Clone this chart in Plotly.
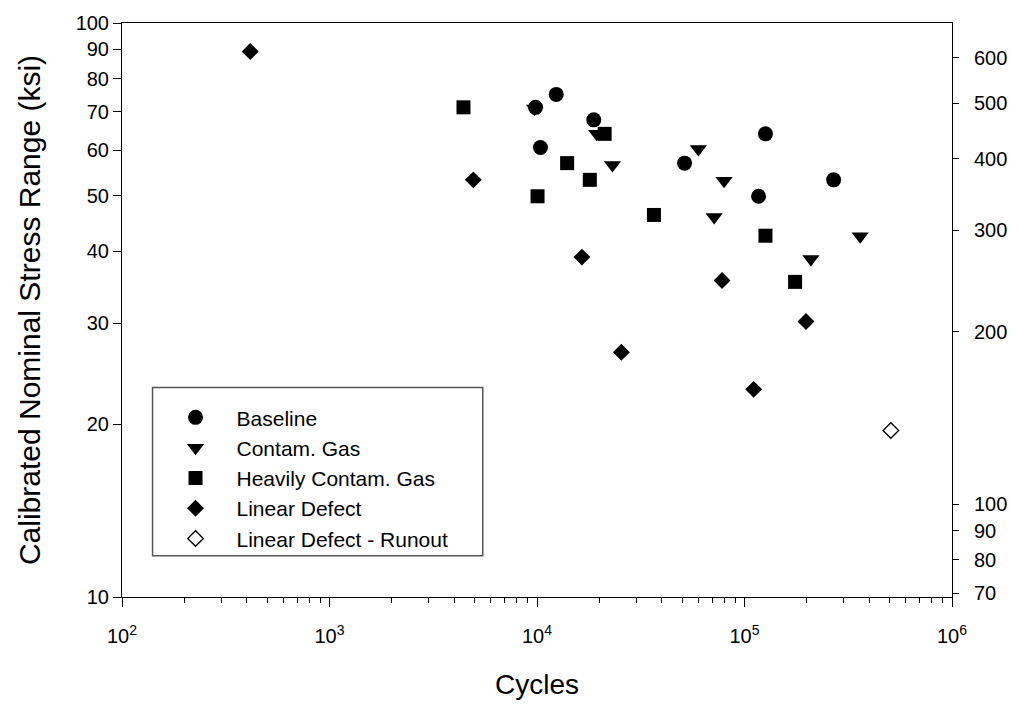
import numpy as np
import plotly.graph_objects as go

# Data (cycles, stress range in ksi)
baseline_n = [9840, 12380, 18770, 10390, 51420, 126200, 116900, 268800]
baseline_s = [71.3, 75.1, 67.8, 60.7, 57.0, 64.1, 49.9, 53.3]

contam_n = [9730, 19400, 23110, 59930, 79700, 71420, 361100, 208900]
contam_s = [71.0, 64.1, 56.6, 60.3, 53.1, 45.9, 42.5, 38.8]

heavy_n = [4423, 21180, 13970, 17970, 10060, 36610, 126200, 175300]
heavy_s = [71.3, 64.1, 57.0, 53.3, 49.9, 46.3, 42.6, 35.4]

linear_n = [415, 4934, 16460, 77970, 197800, 25510, 110700]
linear_s = [89.2, 53.3, 39.1, 35.6, 30.2, 26.7, 23.0]

runout_n = [507200]
runout_s = [19.5]

x_tickvals = [1e2, 1e3, 1e4, 1e5, 1e6]
x_ticktext = ["10<sup>2</sup>", "10<sup>3</sup>", "10<sup>4</sup>", "10<sup>5</sup>", "10<sup>6</sup>"]
y_tickvals = [10, 20, 30, 40, 50, 60, 70, 80, 90, 100]
y2_tickvals = [70, 80, 90, 100, 200, 300, 400, 500, 600]
KSI_TO_MPA = 6.894757

FONT = "Arial, 'Liberation Sans', sans-serif"

fig = go.Figure()

def add(n, s, name, symbol, size, filled=True):
    fig.add_trace(go.Scatter(
        x=n, y=s, mode="markers", name=name,
        marker=dict(symbol=symbol, size=size,
                    color="black" if filled else "white",
                    line=dict(color="black", width=0 if filled else 1.3)),
    ))

add(baseline_n, baseline_s, "Baseline", "circle", 15)
add(contam_n, contam_s, "Contam. Gas", "triangle-down", 15)
add(heavy_n, heavy_s, "Heavily Contam. Gas", "square", 14)
add(linear_n, linear_s, "Linear Defect", "diamond", 13)
add(runout_n, runout_s, "Linear Defect - Runout", "diamond", 12, filled=False)

# invisible trace to anchor the secondary (MPa) axis
fig.add_trace(go.Scatter(x=[None], y=[None], yaxis="y2", showlegend=False,
                         hoverinfo="skip", mode="markers"))

minor_x = [m * 10 ** d for d in range(2, 6) for m in range(2, 10)]

PL, PR, PT, PB = 122, 964, 20, 606
W = PR - PL
H = PB - PT

fig.update_layout(
    width=1019, height=707,
    margin=dict(l=PL, r=1019 - PR, t=PT, b=707 - PB),
    paper_bgcolor="white", plot_bgcolor="white",
    font=dict(family=FONT, color="black", size=20),
    showlegend=True,
    legend=dict(
        x=(155 - PL) / W, y=(PB - 402) / H, xanchor="left", yanchor="top",
        bgcolor="rgba(0,0,0,0)", borderwidth=0,
        font=dict(family=FONT, size=21, color="black"),
        itemwidth=72, tracegroupgap=0,
    ),
    xaxis=dict(
        type="log", range=[2, 6],
        tickvals=x_tickvals, ticktext=x_ticktext,
        ticks="outside", ticklen=9, tickwidth=1, tickcolor="black",
        minor=dict(tickvals=minor_x, ticks="outside", ticklen=5, tickwidth=1, tickcolor="black"),
        showline=True, linecolor="black", linewidth=1, mirror=True,
        showgrid=False, zeroline=False,
        tickfont=dict(family=FONT, size=20, color="black"),
        ticklabelstandoff=12,
        title=dict(text="Cycles", font=dict(family=FONT, size=28, color="black"), standoff=28),
    ),
    yaxis=dict(
        type="log", range=[1, 2],
        tickvals=y_tickvals, ticktext=[str(v) for v in y_tickvals],
        ticks="outside", ticklen=8, tickwidth=1, tickcolor="black",
        showline=True, linecolor="black", linewidth=1,
        showgrid=False, zeroline=False,
        tickfont=dict(family=FONT, size=20, color="black"),
        title=dict(text="Calibrated Nominal Stress Range (ksi)",
                   font=dict(family=FONT, size=30, color="black"), standoff=26),
    ),
    yaxis2=dict(
        type="log", overlaying="y", side="right",
        range=[np.log10(10 * KSI_TO_MPA), np.log10(100 * KSI_TO_MPA)],
        tickvals=y2_tickvals, ticktext=[str(v) for v in y2_tickvals],
        ticks="outside", ticklen=6, tickwidth=1, tickcolor="black",
        showline=True, linecolor="black", linewidth=1,
        showgrid=False, zeroline=False,
        tickfont=dict(family=FONT, size=20, color="black"),
        ticklabelstandoff=11,
    ),
    shapes=[dict(type="rect", xref="paper", yref="paper",
                 x0=(153 - PL) / W, x1=(488 - PL) / W,
                 y0=(PB - 564) / H, y1=(PB - 392) / H,
                 line=dict(color="#555555", width=1.5), fillcolor="rgba(0,0,0,0)")],
)

fig.write_html("out.html")
